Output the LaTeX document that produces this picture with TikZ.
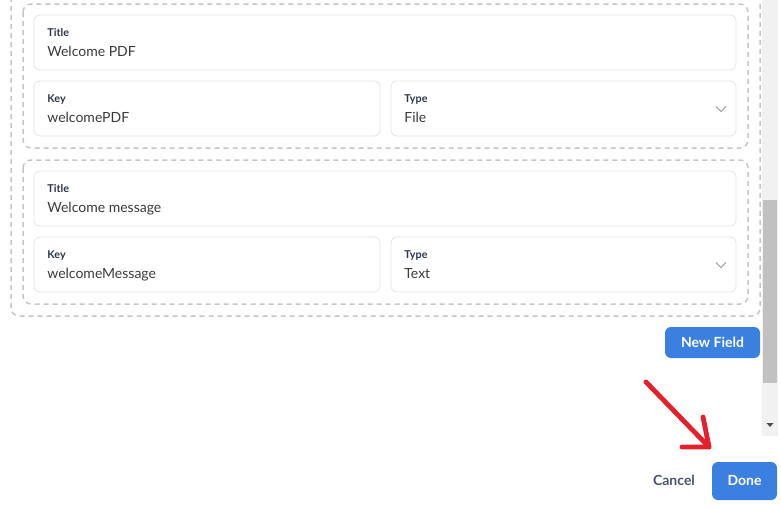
\documentclass[tikz,border=0pt]{standalone}
\usepackage{fontspec}
\setmainfont{Lato}
\definecolor{dashgray}{HTML}{C6C6C6}
\definecolor{fieldline}{HTML}{E4E4E4}
\definecolor{labelink}{HTML}{2D3748}
\definecolor{valueink}{HTML}{3A3A3A}
\definecolor{btnblue}{HTML}{3B7FE1}
\definecolor{cancelink}{HTML}{4A5568}
\definecolor{arrowred}{HTML}{E5202A}
\definecolor{trackgray}{HTML}{F1F1F1}
\definecolor{thumbgray}{HTML}{C1C1C1}
\tikzset{every picture/.style={line width=0.75pt}}

\begin{document}
\begin{tikzpicture}[x=1pt,y=1pt,yscale=-1,xscale=1]
\useasboundingbox (0,0) rectangle (781,507);
\clip (0,0) rectangle (781,507);
\tikzset{
  groupbox/.style={draw=dashgray, line width=1.5pt, dash pattern=on 5pt off 4pt, rounded corners=8pt},
  fieldbox/.style={draw=fieldline, line width=0.8pt, rounded corners=6pt},
  fieldlabel/.style={anchor=base west, inner sep=0pt, text=labelink, font=\fontsize{10.8}{12}\selectfont\bfseries},
  fieldvalue/.style={anchor=base west, inner sep=0pt, text=valueink, font=\fontsize{14}{16}\selectfont},
  chevron/.style={draw=gray!80, line width=0.9pt},
  buttontext/.style={inner sep=0pt, text=white, font=\fontsize{14}{16}\selectfont\bfseries}
}

% Rectangle: outer group (top cut off)
\draw [groupbox] (11,-20) rectangle (760,316);

% Rectangle: first field group
\draw [groupbox] (23,4) rectangle (748,148);
\draw [fieldbox] (34,15) rectangle (736,70);
\draw [fieldbox] (34,81) rectangle (380,136);
\draw [fieldbox] (391,81) rectangle (736,136);

% Text Node
\node [fieldlabel] (titleA) at (47,36) {Title};
\node [fieldvalue] (titleAval) at (47,56) {Welcome PDF};
\node [fieldlabel] (keyA) at (47,102) {Key};
\node [fieldvalue] (keyAval) at (47,122) {welcomePDF};
\node [fieldlabel] (typeA) at (404,102) {Type};
\node [fieldvalue] (typeAval) at (404,122) {File};
\draw [chevron] (716,106.5) -- (721,111.5) -- (726,106.5);

% Rectangle: second field group
\draw [groupbox] (23,160) rectangle (748,304);
\draw [fieldbox] (34,171) rectangle (736,226);
\draw [fieldbox] (34,237) rectangle (380,292);
\draw [fieldbox] (391,237) rectangle (736,292);

% Text Node
\node [fieldlabel] (titleB) at (47,192) {Title};
\node [fieldvalue] (titleBval) at (47,212) {Welcome message};
\node [fieldlabel] (keyB) at (47,258) {Key};
\node [fieldvalue] (keyBval) at (47,278) {welcomeMessage};
\node [fieldlabel] (typeB) at (404,258) {Type};
\node [fieldvalue] (typeBval) at (404,278) {Text};
\draw [chevron] (716,262.5) -- (721,267.5) -- (726,262.5);

% Scrollbar
\fill [trackgray] (762,0) rectangle (778,436);
\fill [thumbgray] (763,200) rectangle (777,383);
\fill [black!70] (766.5,423) -- (773.5,423) -- (770,427) -- cycle;

% Buttons
\fill [btnblue, rounded corners=6pt] (665,327) rectangle (760,358);
\node [buttontext] (newfield) at (712.5,342.5) {New Field};
\node [inner sep=0pt, text=cancelink, font=\fontsize{14}{16}\selectfont\bfseries] (cancel) at (674,480.5) {Cancel};
\fill [btnblue, rounded corners=6pt] (712,462) rectangle (777,500);
\node [buttontext] (done) at (744.5,480.5) {Done};

% Red arrow
\coordinate (tail) at (646,382);
\coordinate (tip) at (709,447);
\coordinate (barbA) at (703,417);
\coordinate (barbB) at (682,447);
\draw [arrowred, line width=4.8pt, line cap=round] (tail) -- (tip);
\draw [arrowred, line width=4.8pt, line cap=round, line join=round] (barbA) -- (tip) -- (barbB);

\end{tikzpicture}
\end{document}
